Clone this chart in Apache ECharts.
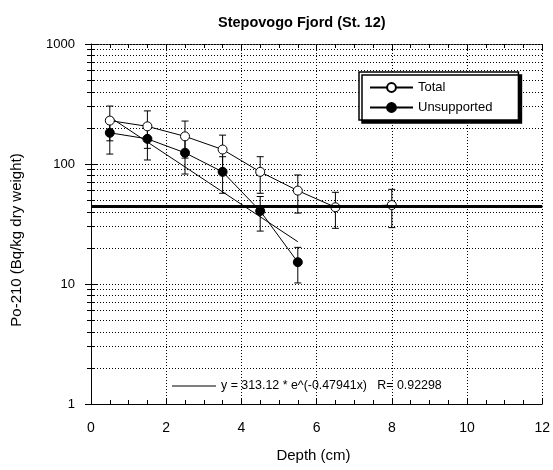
<!DOCTYPE html>
<html>
<head>
<meta charset="utf-8">
<script src="https://cdn.jsdelivr.net/npm/echarts@6/dist/echarts.min.js"></script>
<style>html,body{margin:0;padding:0;background:#fff}#c{width:553px;height:470px}</style>
</head>
<body>
<div id="c"></div>
<script>
// ---- data ----
var depthTotal = [0.5, 1.5, 2.5, 3.5, 4.5, 5.5, 6.5, 8.0];
var totalVals  = [230, 206, 170, 132, 86, 60, 43.6, 45.5];
var totalErr   = [74, 71, 58, 42, 29, 21, 14.5, 16];
var depthUnsup = [0.5, 1.5, 2.5, 3.5, 4.5, 5.5];
var unsupVals  = [182, 162, 124, 86, 40.6, 15.2];
var unsupErr   = [61, 54, 41.5, 29, 13, 5];
var fitX = [0.5, 5.5];
var fitY = [246, 22.5];
var supportedLevel = 44.5;
var xTicks = [0, 2, 4, 6, 8, 10, 12];
var yTicks = [1, 10, 100, 1000];
var fitLabel = 'y = 313.12 * e^(-0.47941x)   R= 0.92298';
var titleText = 'Stepovogo Fjord (St. 12)';
var xName = 'Depth (cm)';
var yName = 'Po-210 (Bq/kg dry weight)';

var FONT = '"Liberation Sans", Arial, sans-serif';
function pairs(xs, ys) { return xs.map(function (x, i) { return [x, ys[i]]; }); }
function errs(xs, ys, es) { return xs.map(function (x, i) { return [x, ys[i] - es[i], ys[i] + es[i]]; }); }

function errRender(params, api) {
  var x = api.value(0);
  var lo = api.coord([x, api.value(1)]);
  var hi = api.coord([x, api.value(2)]);
  var cap = 3.5;
  var st = { stroke: '#000', lineWidth: 1 };
  return { type: 'group', children: [
    { type: 'line', shape: { x1: lo[0], y1: lo[1], x2: hi[0], y2: hi[1] }, style: st },
    { type: 'line', shape: { x1: lo[0] - cap, y1: lo[1], x2: lo[0] + cap, y2: lo[1] }, style: st },
    { type: 'line', shape: { x1: hi[0] - cap, y1: hi[1], x2: hi[0] + cap, y2: hi[1] }, style: st }
  ]};
}

var chart = echarts.init(document.getElementById('c'), null, { renderer: 'canvas' });
var dotted = { color: '#000', width: 1, type: [1, 2] };
var option = {
  animation: false,
  backgroundColor: '#fff',
  textStyle: { fontFamily: FONT, color: '#000' },
  title: { text: titleText, left: 213, top: 10,
    textStyle: { fontFamily: FONT, fontSize: 14.5, fontWeight: 'bold', color: '#000' } },
  grid: { left: 91, right: 6, top: 44, bottom: 66 },
  graphic: [{
    type: 'text', x: 313.5, y: 456,
    style: { text: xName, font: '15px ' + FONT, fill: '#000', align: 'center', verticalAlign: 'middle' }
  }, {
    type: 'text', x: 17, y: 240, rotation: Math.PI / 2,
    style: { text: yName, font: '15px ' + FONT, fill: '#000', align: 'center', verticalAlign: 'middle' }
  }],
  legend: [{
    data: ['Total', 'Unsupported'],
    left: 359, top: 72, orient: 'vertical',
    itemWidth: 43, itemHeight: 11, itemGap: 7,
    padding: [9, 26, 6, 10],
    backgroundColor: '#fff', borderColor: '#000', borderWidth: 1.5,
    shadowColor: '#000', shadowBlur: 0, shadowOffsetX: 3, shadowOffsetY: 3,
    textStyle: { fontFamily: FONT, fontSize: 13, color: '#000' },
    selectedMode: false
  }, {
    data: [{ name: fitLabel, icon: 'rect' }],
    left: 167, top: 375,
    itemWidth: 44, itemHeight: 1, itemGap: 5,
    textStyle: { fontFamily: FONT, fontSize: 12.4, color: '#000' },
    selectedMode: false
  }],
  xAxis: [{
    type: 'value', min: xTicks[0], max: xTicks[xTicks.length - 1], interval: 2,
    position: 'bottom',
    axisLine: { lineStyle: { color: '#000', width: 1 } },
    axisTick: { inside: true, length: 6, lineStyle: { color: '#000' } },
    minorTick: { show: true, splitNumber: 4, length: 4, lineStyle: { color: '#000' } },
    axisLabel: { fontFamily: FONT, fontSize: 14, color: '#000', margin: 17 },
    splitLine: { show: true, lineStyle: dotted }
  }, {
    type: 'value', min: xTicks[0], max: xTicks[xTicks.length - 1], interval: 2,
    position: 'top',
    axisLine: { lineStyle: { color: '#000', width: 1, type: [2, 1] } },
    axisTick: { inside: true, length: 6, lineStyle: { color: '#000' } },
    minorTick: { show: true, splitNumber: 4, length: 4, lineStyle: { color: '#000' } },
    axisLabel: { show: false },
    splitLine: { show: false }
  }],
  yAxis: [{
    type: 'log', logBase: 10, min: yTicks[0], max: yTicks[yTicks.length - 1],
    position: 'left',
    axisLine: { show: true, lineStyle: { color: '#000', width: 1 } },
    axisTick: { inside: true, length: 6, lineStyle: { color: '#000' } },
    minorTick: { show: true, splitNumber: 9, length: 4, lineStyle: { color: '#000' } },
    minorSplitLine: { show: true, lineStyle: dotted },
    axisLabel: { fontFamily: FONT, fontSize: 13, color: '#000', margin: 16,
      formatter: function (v) { return String(Math.round(v)); } },
    splitLine: { show: true, lineStyle: dotted }
  }, {
    type: 'log', logBase: 10, min: yTicks[0], max: yTicks[yTicks.length - 1],
    position: 'right',
    axisLine: { show: true, lineStyle: { color: '#000', width: 1, type: [2, 1] } },
    axisTick: { inside: true, length: 6, lineStyle: { color: '#000' } },
    minorTick: { show: true, splitNumber: 9, length: 4, lineStyle: { color: '#000' } },
    axisLabel: { show: false },
    splitLine: { show: false }
  }],
  series: [{
    name: fitLabel, type: 'line', data: pairs(fitX, fitY),
    symbol: 'none', lineStyle: { color: '#000', width: 1 }, itemStyle: { color: '#000' },
    z: 3,
    markLine: {
      silent: true, symbol: 'none', label: { show: false },
      lineStyle: { color: '#000', width: 3, type: 'solid' },
      data: [{ yAxis: supportedLevel }]
    }
  }, {
    name: 'Total-err', type: 'custom', renderItem: errRender,
    data: errs(depthTotal, totalVals, totalErr), z: 2
  }, {
    name: 'Unsupported-err', type: 'custom', renderItem: errRender,
    data: errs(depthUnsup, unsupVals, unsupErr), z: 2
  }, {
    name: 'Total', type: 'line', data: pairs(depthTotal, totalVals),
    symbol: 'circle', symbolSize: 9,
    lineStyle: { color: '#000', width: 1 },
    itemStyle: { color: '#fff', borderColor: '#000', borderWidth: 1 }, z: 4
  }, {
    name: 'Unsupported', type: 'line', data: pairs(depthUnsup, unsupVals),
    symbol: 'circle', symbolSize: 9,
    lineStyle: { color: '#000', width: 1 },
    itemStyle: { color: '#000', borderColor: '#000', borderWidth: 1 }, z: 4
  }]
};
chart.setOption(option);
</script>
</body>
</html>
